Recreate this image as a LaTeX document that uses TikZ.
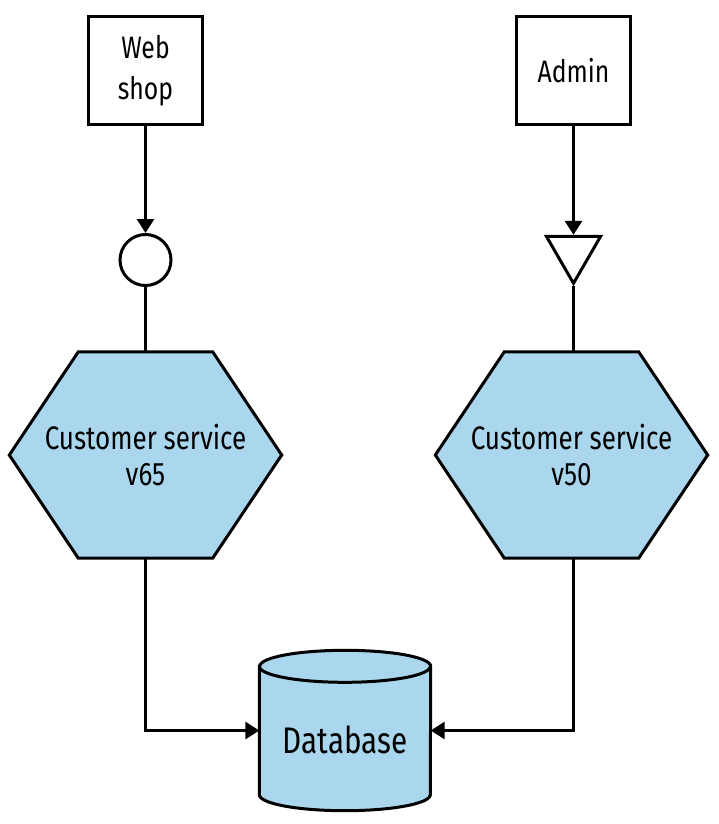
\documentclass[tikz,border=0pt]{standalone}
\usepackage{fontspec}
\setmainfont{Fira Sans}[FakeStretch=0.8]
\usetikzlibrary{arrows.meta,shapes.geometric,backgrounds}
\definecolor{svcblue}{RGB}{170,215,237}
\begin{document}
\begin{tikzpicture}[x=1pt,y=-1pt,
  conn/.style={line width=3pt},
  arr/.style={conn,-{Triangle[length=14pt,width=17pt]}},
  clientbox/.style={draw,line width=3pt,minimum width=114pt,minimum height=108pt,inner sep=0pt,align=center,font=\fontsize{31}{41}\selectfont},
  hexnode/.style={minimum width=272pt,minimum height=206pt,inner sep=0pt,align=center,font=\fontsize{32.5}{36}\selectfont},
  hexshape/.style={draw,line width=3pt,fill=svcblue,line join=miter},
  dbshape/.style={draw,line width=3pt,fill=svcblue},
  portcircle/.style={circle,draw,line width=3pt,minimum size=51pt,inner sep=0pt,fill=white},
  porttri/.style={regular polygon,regular polygon sides=3,shape border rotate=180,draw,line width=3pt,minimum size=62.6pt,inner sep=0pt,fill=white},
]
\useasboundingbox (0,0) rectangle (719,824);

% clients
\node[clientbox] (web) at (145.5,70.5) {\raisebox{-5pt}{\begin{tabular}{@{}c@{}}Web\\shop\end{tabular}}};
\node[clientbox] (admin) at (573.5,70.5) {Admin};

% ports
\node[portcircle] (port1) at (145.5,260) {};
\node[porttri] (port2) at (573.5,252) {};

% services
\node[hexnode] (hexL) at (145.5,455) {Customer service\\v65};
\node[hexnode] (hexR) at (571.5,455) {Customer service\\v50};
\begin{scope}[on background layer]
\foreach \h in {hexL,hexR}{
  \draw[hexshape] (\h.west) -- ([xshift=69pt]\h.north west) -- ([xshift=-69pt]\h.north east)
    -- (\h.east) -- ([xshift=-69pt]\h.south east) -- ([xshift=69pt]\h.south west) -- cycle;
}
\end{scope}

% database
\node[minimum width=171pt,minimum height=160pt,inner sep=0pt] (db) at (345,730.5) {};
\begin{scope}[on background layer]
\draw[dbshape] ([yshift=-16pt]db.north west) -- ([yshift=16pt]db.south west)
  arc[start angle=180,end angle=360,x radius=85.5pt,y radius=16pt]
  -- ([yshift=-16pt]db.north east)
  arc[start angle=0,end angle=180,x radius=85.5pt,y radius=16pt] -- cycle;
\draw[line width=3pt] ([yshift=-16pt]db.north west)
  arc[start angle=180,end angle=360,x radius=85.5pt,y radius=16pt];
\end{scope}
\node[font=\fontsize{37}{40}\selectfont,inner sep=0pt] (dblabel) at (345,740) {Database};

% connectors
\draw[arr] (web) -- (port1);
\draw[conn] (port1) -- (hexL);
\draw[arr] (admin) -- (port2);
\draw[conn] (port2) -- (port2 |- hexR.north);
\draw[arr] (hexL.south) |- (db.west);
\draw[arr] (hexR.south -| port2) |- (db.east);
\end{tikzpicture}
\end{document}
